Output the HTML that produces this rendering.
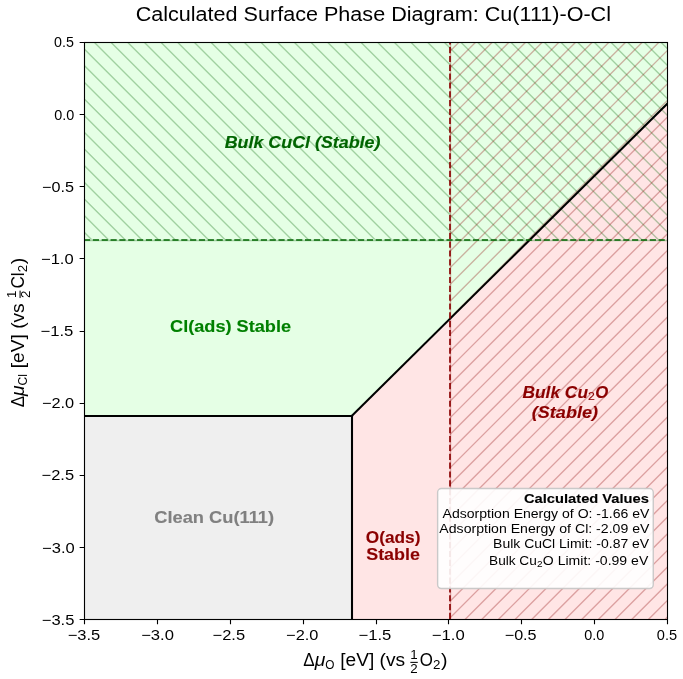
<!DOCTYPE html>
<html><head><meta charset="utf-8"><title>Calculated Surface Phase Diagram</title>
<style>
html,body{margin:0;padding:0;background:#fff;width:683px;height:679px;overflow:hidden}
svg{display:block;will-change:transform}
text{font-family:"Liberation Sans",sans-serif;white-space:pre}
</style></head><body>
<svg width="683" height="679" viewBox="0 0 683 679">
<defs>
<clipPath id="cax"><rect x="84" y="42" width="583" height="577"/></clipPath>
<clipPath id="chg"><rect x="84" y="42" width="583" height="197.62"/></clipPath>
<clipPath id="chr"><rect x="449.83" y="42" width="217.17" height="577"/></clipPath>
</defs>
<g class="nt">
<polygon fill="#efefef" points="84,619 352.18,619 352.18,415.61 84,415.61"/>
<polygon fill="#e5ffe5" points="84,415.61 352.18,415.61 667,104.03 667,42 84,42"/>
<polygon fill="#ffe5e5" points="352.18,619 667,619 667,104.03 352.18,415.61"/>
<path clip-path="url(#chg)" stroke="#006400" stroke-opacity="0.3" stroke-width="1.39" fill="none" d="M-124.67 40L76.96 241.62M-108 40L93.62 241.62M-91.33 40L110.29 241.62M-74.67 40L126.96 241.62M-58 40L143.62 241.62M-41.33 40L160.29 241.62M-24.67 40L176.96 241.62M-8 40L193.62 241.62M8.67 40L210.29 241.62M25.33 40L226.96 241.62M42 40L243.62 241.62M58.67 40L260.29 241.62M75.33 40L276.96 241.62M92 40L293.62 241.62M108.67 40L310.29 241.62M125.33 40L326.96 241.62M142 40L343.62 241.62M158.67 40L360.29 241.62M175.33 40L376.96 241.62M192 40L393.62 241.62M208.67 40L410.29 241.62M225.33 40L426.96 241.62M242 40L443.62 241.62M258.67 40L460.29 241.62M275.33 40L476.96 241.62M292 40L493.62 241.62M308.67 40L510.29 241.62M325.33 40L526.96 241.62M342 40L543.62 241.62M358.67 40L560.29 241.62M375.33 40L576.96 241.62M392 40L593.62 241.62M408.67 40L610.29 241.62M425.33 40L626.96 241.62M442 40L643.62 241.62M458.67 40L660.29 241.62M475.33 40L676.96 241.62M492 40L693.62 241.62M508.67 40L710.29 241.62M525.33 40L726.96 241.62M542 40L743.62 241.62M558.67 40L760.29 241.62M575.33 40L776.96 241.62M592 40L793.62 241.62M608.67 40L810.29 241.62M625.33 40L826.96 241.62M642 40L843.62 241.62M658.67 40L860.29 241.62M675.33 40L876.96 241.62"/>
<line x1="84" y1="240.5" x2="667" y2="240.5" stroke="#006400" stroke-opacity="0.3" stroke-width="1.39"/>
<path clip-path="url(#chr)" stroke="#8b0000" stroke-opacity="0.3" stroke-width="1.39" fill="none" d="M-136.47 621L444.53 40M-119.8 621L461.2 40M-103.13 621L477.87 40M-86.47 621L494.53 40M-69.8 621L511.2 40M-53.13 621L527.87 40M-36.47 621L544.53 40M-19.8 621L561.2 40M-3.13 621L577.87 40M13.53 621L594.53 40M30.2 621L611.2 40M46.87 621L627.87 40M63.53 621L644.53 40M80.2 621L661.2 40M96.87 621L677.87 40M113.53 621L694.53 40M130.2 621L711.2 40M146.87 621L727.87 40M163.53 621L744.53 40M180.2 621L761.2 40M196.87 621L777.87 40M213.53 621L794.53 40M230.2 621L811.2 40M246.87 621L827.87 40M263.53 621L844.53 40M280.2 621L861.2 40M296.87 621L877.87 40M313.53 621L894.53 40M330.2 621L911.2 40M346.87 621L927.87 40M363.53 621L944.53 40M380.2 621L961.2 40M396.87 621L977.87 40M413.53 621L994.53 40M430.2 621L1011.2 40M446.87 621L1027.87 40M463.53 621L1044.53 40M480.2 621L1061.2 40M496.87 621L1077.87 40M513.53 621L1094.53 40M530.2 621L1111.2 40M546.87 621L1127.87 40M563.53 621L1144.53 40M580.2 621L1161.2 40M596.87 621L1177.87 40M613.53 621L1194.53 40M630.2 621L1211.2 40M646.87 621L1227.87 40M663.53 621L1244.53 40M680.2 621L1261.2 40"/>
<line x1="450.5" y1="42" x2="450.5" y2="619" stroke="#8b0000" stroke-opacity="0.3" stroke-width="1.39"/>
<g clip-path="url(#cax)" stroke="#000" stroke-width="2.08" fill="none">
<line x1="84" y1="416" x2="353.04" y2="416"/>
<line x1="352" y1="619" x2="352" y2="414.96"/>
<line x1="351.44" y1="416.34" x2="667.74" y2="103.29"/>
</g>
<line x1="84" y1="240" x2="667" y2="240" stroke="#006400" stroke-width="1.67" stroke-dasharray="6.17 2.67"/>
<line x1="450" y1="619" x2="450" y2="42" stroke="#8b0000" stroke-width="1.67" stroke-dasharray="6.17 2.67"/>
<rect x="84.5" y="42.5" width="583" height="577" fill="none" stroke="#000" stroke-width="1.11" stroke-linejoin="miter"/>
<path stroke="#000" stroke-width="1.11" fill="none" d="M84.5 619.5v4.86M157.5 619.5v4.86M230.5 619.5v4.86M303.5 619.5v4.86M376.5 619.5v4.86M448.5 619.5v4.86M521.5 619.5v4.86M594.5 619.5v4.86M667.5 619.5v4.86M84.5 42.5h-4.86M84.5 114.5h-4.86M84.5 186.5h-4.86M84.5 258.5h-4.86M84.5 331.5h-4.86M84.5 403.5h-4.86M84.5 475.5h-4.86M84.5 547.5h-4.86M84.5 619.5h-4.86"/>
</g>
<text id="title" x="135.65" y="20.54" font-size="20.42" textLength="475.37" lengthAdjust="spacingAndGlyphs">Calculated Surface Phase Diagram: Cu(111)-O-Cl</text>
<text id="xt_m3p5" x="67.73" y="640.45" font-size="14.58" textLength="32.53" lengthAdjust="spacingAndGlyphs">−3.5</text>
<text id="xt_m3p0" x="141.16" y="640.31" font-size="14.58" textLength="32.84" lengthAdjust="spacingAndGlyphs">−3.0</text>
<text id="xt_m2p5" x="212.61" y="640.28" font-size="14.58" textLength="32.47" lengthAdjust="spacingAndGlyphs">−2.5</text>
<text id="xt_m2p0" x="286.09" y="640.03" font-size="14.58" textLength="32.3" lengthAdjust="spacingAndGlyphs">−2.0</text>
<text id="xt_m1p5" x="358.47" y="640.07" font-size="14.58" textLength="32.82" lengthAdjust="spacingAndGlyphs">−1.5</text>
<text id="xt_m1p0" x="431.85" y="639.89" font-size="14.58" textLength="32.95" lengthAdjust="spacingAndGlyphs">−1.0</text>
<text id="xt_m0p5" x="504.69" y="639.89" font-size="14.58" textLength="31.91" lengthAdjust="spacingAndGlyphs">−0.5</text>
<text id="xt_0p0" x="584.31" y="640.18" font-size="14.58" textLength="20.04" lengthAdjust="spacingAndGlyphs">0.0</text>
<text id="xt_0p5" x="656.87" y="640.32" font-size="14.58" textLength="20.28" lengthAdjust="spacingAndGlyphs">0.5</text>
<text id="yt_m3p5" x="41.72" y="625.29" font-size="14.58" textLength="32.69" lengthAdjust="spacingAndGlyphs">−3.5</text>
<text id="yt_m3p0" x="42.05" y="553.01" font-size="14.58" textLength="32.67" lengthAdjust="spacingAndGlyphs">−3.0</text>
<text id="yt_m2p5" x="41.62" y="479.9" font-size="14.58" textLength="32.45" lengthAdjust="spacingAndGlyphs">−2.5</text>
<text id="yt_m2p0" x="41.9" y="408.46" font-size="14.58" textLength="32.28" lengthAdjust="spacingAndGlyphs">−2.0</text>
<text id="yt_m1p5" x="40.45" y="336.33" font-size="14.58" textLength="32.9" lengthAdjust="spacingAndGlyphs">−1.5</text>
<text id="yt_m1p0" x="40.98" y="264.05" font-size="14.58" textLength="32.69" lengthAdjust="spacingAndGlyphs">−1.0</text>
<text id="yt_m0p5" x="42.06" y="191.9" font-size="14.58" textLength="31.97" lengthAdjust="spacingAndGlyphs">−0.5</text>
<text id="yt_0p0" x="54.29" y="120.11" font-size="14.58" textLength="20.04" lengthAdjust="spacingAndGlyphs">0.0</text>
<text id="yt_0p5" x="54.05" y="47.12" font-size="14.58" textLength="19.85" lengthAdjust="spacingAndGlyphs">0.5</text>
<text id="t0" x="154.22" y="523.33" font-size="16.04" font-weight="bold" stroke="#808080" stroke-width="0.12" fill="#808080" textLength="119.87" lengthAdjust="spacingAndGlyphs">Clean Cu(111)</text>
<text id="t1" x="170.07" y="332.08" font-size="16.04" font-weight="bold" stroke="#008000" stroke-width="0.12" fill="#008000" textLength="121.03" lengthAdjust="spacingAndGlyphs">Cl(ads) Stable</text>
<text id="t2a" x="365.8" y="542.55" font-size="16.04" font-weight="bold" stroke="#8b0000" stroke-width="0.12" fill="#8b0000" textLength="54.65" lengthAdjust="spacingAndGlyphs">O(ads)</text>
<text id="t2b" x="366.19" y="559.74" font-size="16.04" font-weight="bold" stroke="#8b0000" stroke-width="0.12" fill="#8b0000" textLength="53.77" lengthAdjust="spacingAndGlyphs">Stable</text>
<text id="t3" x="224.68" y="147.84" font-size="16.04" font-weight="bold" stroke="#006400" stroke-width="0.12" font-style="italic" fill="#006400" textLength="155.8" lengthAdjust="spacingAndGlyphs">Bulk CuCl (Stable)</text>
<text id="t4b" x="531.79" y="418.13" font-size="16.04" font-weight="bold" stroke="#8b0000" stroke-width="0.12" font-style="italic" fill="#8b0000" textLength="66.26" lengthAdjust="spacingAndGlyphs">(Stable)</text>
<g id="t4a" class="g" transform="translate(522.54 397.86) scale(1.0029 1)" fill="#8b0000" stroke="#8b0000" stroke-width="0.12"><text x="0" y="0" font-size="16.04" font-weight="bold" font-style="italic" textLength="65.23" lengthAdjust="spacingAndGlyphs">Bulk Cu</text><text x="65.35" y="2.46" font-size="11.23" textLength="6.8" lengthAdjust="spacingAndGlyphs">2</text><text x="72.55" y="0" font-size="16.04" font-weight="bold" font-style="italic" textLength="12.99" lengthAdjust="spacingAndGlyphs">O</text></g>
<rect class="nt" x="437.63" y="488.53" width="215.62" height="100" rx="3.75" ry="3.75" fill="#fff" fill-opacity="0.9" stroke="#c4c4c4" stroke-opacity="0.9" stroke-width="1.39"/>
<text id="t5a" x="524.03" y="502.86" font-size="13.12" font-weight="bold" stroke="#000" stroke-width="0.12" textLength="124.91" lengthAdjust="spacingAndGlyphs">Calculated Values</text>
<text id="t5b" x="442.58" y="518.04" font-size="13.12" textLength="206.89" lengthAdjust="spacingAndGlyphs">Adsorption Energy of O: -1.66 eV</text>
<text id="t5c" x="439.36" y="533" font-size="13.12" textLength="210.04" lengthAdjust="spacingAndGlyphs">Adsorption Energy of Cl: -2.09 eV</text>
<text id="t5d" x="493.08" y="547.98" font-size="13.12" textLength="156.09" lengthAdjust="spacingAndGlyphs">Bulk CuCl Limit: -0.87 eV</text>
<g id="t5e" class="g" transform="translate(489.03 564.54) scale(0.9990 1)"><text x="0" y="0" font-size="13.12" textLength="47.83" lengthAdjust="spacingAndGlyphs">Bulk Cu</text><text x="47.96" y="2.13" font-size="9.19" textLength="5.57" lengthAdjust="spacingAndGlyphs">2</text><text x="53.88" y="0" font-size="13.12" textLength="105.54" lengthAdjust="spacingAndGlyphs">O Limit: -0.99 eV</text></g>
<g id="xlabel" class="g" transform="translate(303.27 666.13) scale(1.0009 1)"><text x="0" y="0" font-size="17.5" textLength="11.4" lengthAdjust="spacingAndGlyphs">Δ</text><text x="11.37" y="0" font-size="17.5" font-style="italic" textLength="10.6" lengthAdjust="spacingAndGlyphs">μ</text><text x="21.95" y="2.79" font-size="12.25" textLength="9.18" lengthAdjust="spacingAndGlyphs">O</text><text x="36.86" y="0" font-size="17.5" textLength="64.87" lengthAdjust="spacingAndGlyphs">[eV] (vs</text><text x="106.99" y="-7.4" font-size="12.25" textLength="7.42" lengthAdjust="spacingAndGlyphs">1</text><text x="106.99" y="6.64" font-size="12.25" textLength="7.42" lengthAdjust="spacingAndGlyphs">2</text><text x="116.48" y="0" font-size="17.5" textLength="13.12" lengthAdjust="spacingAndGlyphs">O</text><text x="129.72" y="2.79" font-size="12.25" textLength="7.42" lengthAdjust="spacingAndGlyphs">2</text><text x="137.59" y="0" font-size="17.5" textLength="6.5" lengthAdjust="spacingAndGlyphs">)</text><rect x="106.99" y="-4.28" width="7.4" height="1.04"/></g>
<g id="ylabel" class="g" transform="translate(23.84 407.34) rotate(-90) scale(1.0009 1)"><text x="0" y="0" font-size="17.5" textLength="11.4" lengthAdjust="spacingAndGlyphs">Δ</text><text x="11.37" y="0" font-size="17.5" font-style="italic" textLength="10.6" lengthAdjust="spacingAndGlyphs">μ</text><text x="21.95" y="2.79" font-size="12.25" textLength="11.37" lengthAdjust="spacingAndGlyphs">Cl</text><text x="39.06" y="0" font-size="17.5" textLength="64.87" lengthAdjust="spacingAndGlyphs">[eV] (vs</text><text x="109.19" y="-7.4" font-size="12.25" textLength="7.42" lengthAdjust="spacingAndGlyphs">1</text><text x="109.19" y="6.64" font-size="12.25" textLength="7.42" lengthAdjust="spacingAndGlyphs">2</text><text x="118.67" y="0" font-size="17.5" textLength="16.24" lengthAdjust="spacingAndGlyphs">Cl</text><text x="135.06" y="2.79" font-size="12.25" textLength="7.42" lengthAdjust="spacingAndGlyphs">2</text><text x="142.93" y="0" font-size="17.5" textLength="6.5" lengthAdjust="spacingAndGlyphs">)</text><rect x="109.19" y="-4.28" width="7.4" height="1.04"/></g>
</svg>
</body></html>
